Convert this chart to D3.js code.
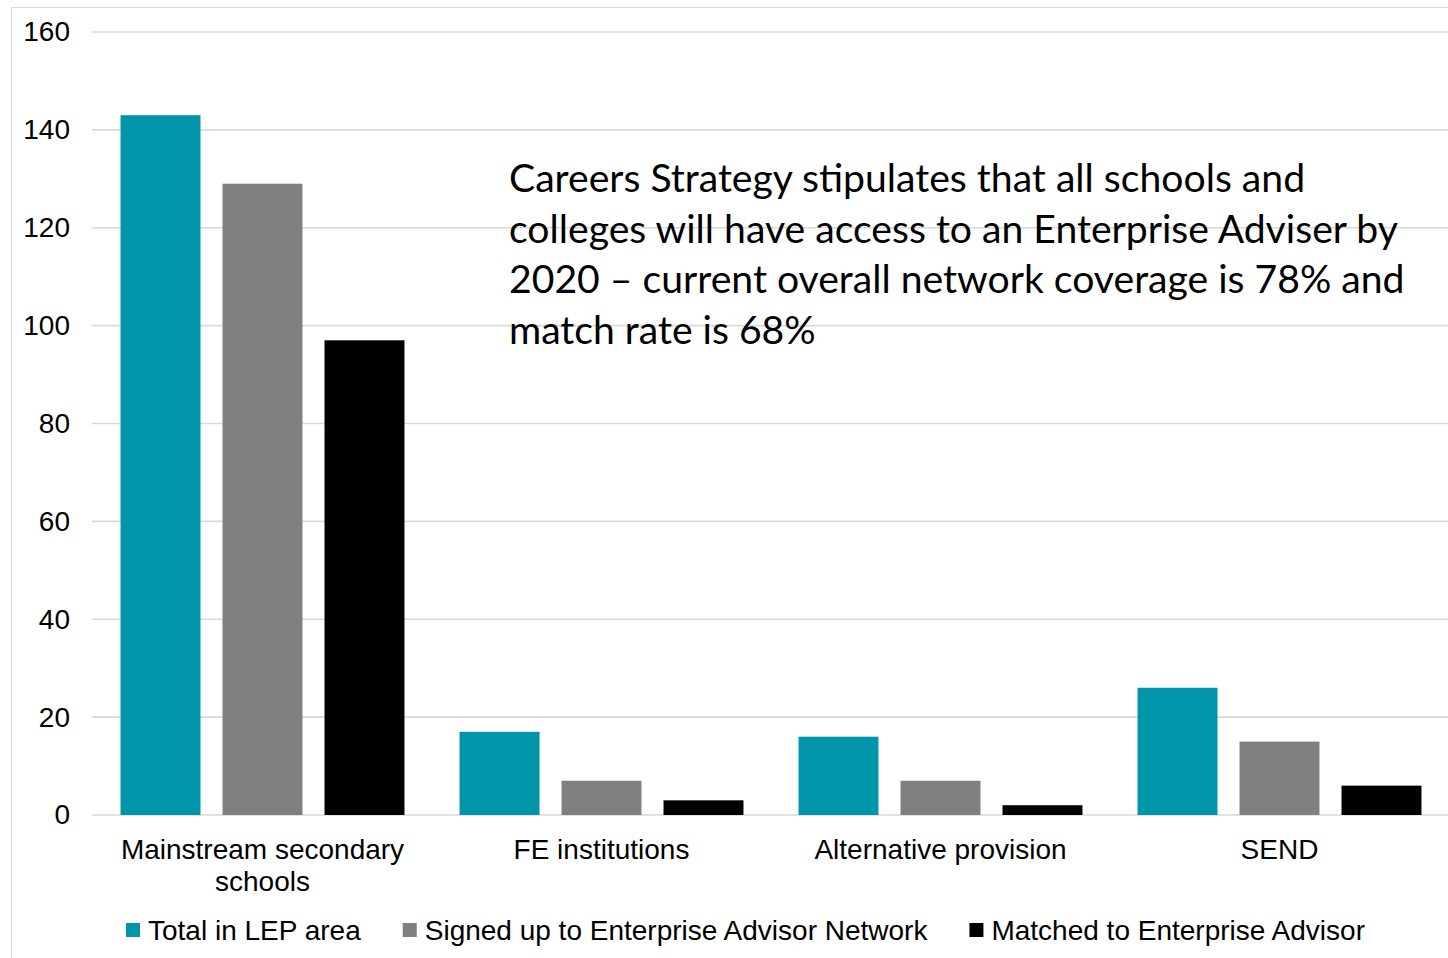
<!DOCTYPE html>
<html>
<head>
<meta charset="utf-8">
<script src="https://cdn.jsdelivr.net/npm/d3@7"></script>
<style>
  html, body { margin: 0; padding: 0; background: #fff; }
  svg { display: block; font-family: "Liberation Sans", Arial, sans-serif; }
</style>
</head>
<body>
<svg width="1448" height="958"></svg>
<script>
// data
const categories = ["Mainstream secondary schools", "FE institutions", "Alternative provision", "SEND"];
const categoryLines = [["Mainstream secondary", "schools"], ["FE institutions"], ["Alternative provision"], ["SEND"]];
const seriesNames = ["Total in LEP area", "Signed up to Enterprise Advisor Network", "Matched to Enterprise Advisor"];
const totalInLep = [143, 17, 16, 26];
const signedUp = [129, 7, 7, 15];
const matched = [97, 3, 2, 6];
const yTicks = [0, 20, 40, 60, 80, 100, 120, 140, 160];
const noteLines = [
  "Careers Strategy stipulates that all schools and",
  "colleges will have access to an Enterprise Adviser by",
  "2020 \u2013 current overall network coverage is 78% and",
  "match rate is 68%"
];

const colors = ["#0095a8", "#808080", "#000000"];
const seriesValues = [totalInLep, signedUp, matched];

const svg = d3.select("svg"),
  width = 1448,
  height = 958;

const plot = { left: 93, right: 1449, top: 32, bottom: 815 };

// chart border
svg.append("rect")
  .attr("x", 11.5).attr("y", 7.5)
  .attr("width", width).attr("height", height)
  .attr("fill", "none").attr("stroke", "#d9d9d9");

// scales
const y = d3.scaleLinear().domain([0, 160]).range([plot.bottom, plot.top]);
const x0 = d3.scaleBand().domain(categories).range([plot.left, plot.right]);
const x1 = d3.scaleBand().domain(d3.range(seriesNames.length))
  .range([0, x0.bandwidth()]).paddingInner(0.216).paddingOuter(0.27);

// gridlines
svg.append("g")
  .selectAll("line")
  .data(yTicks)
  .enter().append("line")
  .attr("x1", plot.left - 1).attr("x2", plot.right)
  .attr("y1", d => y(d)).attr("y2", d => y(d))
  .attr("stroke", "#d9d9d9").attr("stroke-width", 1.6);

// y axis labels
const yAxis = svg.append("g")
  .attr("transform", `translate(${plot.left},0)`)
  .call(d3.axisLeft(y).tickValues(yTicks).tickSize(0).tickPadding(23));
yAxis.select(".domain").remove();
yAxis.selectAll("text")
  .attr("font-family", "Liberation Sans, Arial, sans-serif")
  .attr("font-size", 28).attr("fill", "#000");

// bars
const groups = svg.append("g")
  .selectAll("g")
  .data(categories)
  .enter().append("g")
  .attr("transform", d => `translate(${x0(d)},0)`);

groups.selectAll("rect")
  .data((c, i) => seriesValues.map((vals, s) => ({ s: s, v: vals[i] })))
  .enter().append("rect")
  .attr("x", d => x1(d.s))
  .attr("width", x1.bandwidth())
  .attr("y", d => y(d.v))
  .attr("height", d => y(0) - y(d.v))
  .attr("fill", d => colors[d.s]);

// category labels
const catLabels = svg.append("g")
  .selectAll("text")
  .data(categories)
  .enter().append("text")
  .attr("x", d => x0(d) + x0.bandwidth() / 2)
  .attr("y", 859)
  .attr("text-anchor", "middle")
  .attr("font-size", 28)
  .attr("fill", "#000");
catLabels.selectAll("tspan")
  .data((d, i) => categoryLines[i])
  .enter().append("tspan")
  .attr("x", function () { return d3.select(this.parentNode).attr("x"); })
  .attr("dy", (d, i) => i === 0 ? 0 : 32)
  .text(d => d);

// legend
const legend = svg.append("g");
let lx = 126;
seriesNames.forEach((name, i) => {
  legend.append("rect")
    .attr("x", lx).attr("y", 923)
    .attr("width", 14).attr("height", 14)
    .attr("fill", colors[i]);
  const t = legend.append("text")
    .attr("x", lx + 22).attr("y", 940)
    .attr("font-size", 28).attr("fill", "#000")
    .text(name);
  lx += 22 + t.node().getComputedTextLength() + 42;
});

// annotation
const note = svg.append("g");
const noteTexts = note.selectAll("text")
  .data(noteLines)
  .enter().append("text")
  .attr("x", 509)
  .attr("y", (d, i) => 192 + i * 50.5)
  .attr("font-family", "Lato, 'Open Sans', sans-serif")
  .attr("font-size", 36)
  .attr("fill", "#000")
  .text(d => d);
// scale font so the widest line spans like the reference
const widest = d3.max(noteTexts.nodes(), n => n.getComputedTextLength());
noteTexts.attr("font-size", 36 * 896 / widest);
</script>
</body>
</html>
